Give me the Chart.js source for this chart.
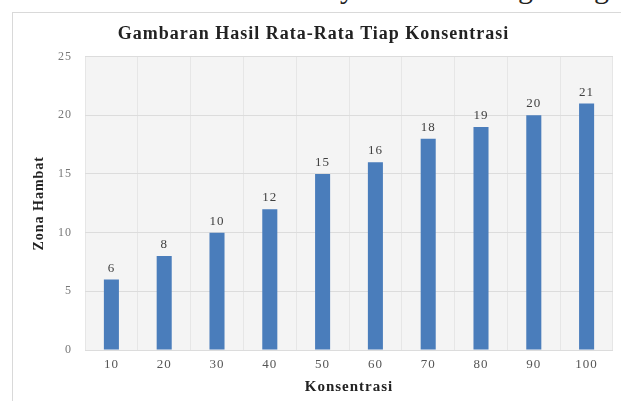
<!DOCTYPE html>
<html><head><meta charset="utf-8">
<script src="https://cdn.jsdelivr.net/npm/chart.js@4.4.1/dist/chart.umd.min.js"></script>
<style>
html,body{margin:0;padding:0;background:#fff;}
body{width:621px;height:401px;position:relative;overflow:hidden;}
#strip{position:absolute;left:0;top:0;width:621px;height:10px;overflow:hidden;}
#strip span{position:absolute;top:-29px;font-family:"Liberation Serif",serif;font-size:30px;color:#222;}
#box{position:absolute;left:12px;top:12px;width:609px;height:389px;border-left:1px solid #d9d9d9;border-top:1px solid #d9d9d9;box-sizing:border-box;}
#wrap{position:absolute;left:1px;top:1px;width:608px;height:388px;}
</style></head>
<body>
<div id="strip"><span style="left:340px">y</span><span style="left:518px">g</span><span style="left:594px">g</span></div>
<div id="box"><div id="wrap"><canvas id="c"></canvas></div></div>
<script>
const categories = ["10","20","30","40","50","60","70","80","90","100"];
const zonaHambat = [6,8,10,12,15,16,18,19,20,21];
const yTicks = [0,5,10,15,20,25];
const chartTitle = "Gambaran Hasil Rata-Rata Tiap Konsentrasi";
const xTitle = "Konsentrasi";
const yTitle = "Zona Hambat";

const spacing = {
  id:'spacing',
  beforeInit(chart){ chart.ctx.letterSpacing='1px'; },
  beforeUpdate(chart){ chart.ctx.letterSpacing='1px'; },
  beforeLayout(chart){ chart.ctx.letterSpacing='1px'; },
  beforeDraw(chart){ chart.ctx.letterSpacing='1px'; }
};
const plotBg = {
  id:'plotBg',
  beforeDraw(chart){
    const {ctx, chartArea:a} = chart;
    ctx.save(); ctx.fillStyle='#f4f4f4';
    ctx.fillRect(a.left,a.top,a.right-a.left,a.bottom-a.top);
    ctx.restore();
  }
};
const valueLabels = {
  id:'valueLabels',
  afterDatasetsDraw(chart){
    const {ctx} = chart;
    const meta = chart.getDatasetMeta(0);
    ctx.save();
    ctx.font = '13px "Liberation Serif", serif';
    ctx.fillStyle = '#404040';
    ctx.textAlign = 'center';
    ctx.textBaseline = 'alphabetic';
    meta.data.forEach((el,i)=>{
      ctx.fillText(String(chart.data.datasets[0].data[i]), el.x, el.y - 8);
    });
    ctx.restore();
  }
};

new Chart(document.getElementById('c'), {
  type:'bar',
  data:{ labels:categories, datasets:[{ data:zonaHambat, backgroundColor:'#4a7dbb', barPercentage:0.285, categoryPercentage:1 }]},
  options:{
    responsive:true, maintainAspectRatio:false, animation:false,
    layout:{padding:{left:0,right:9,top:0,bottom:0}},
    plugins:{
      legend:{display:false}, tooltip:{enabled:false},
      title:{display:true, text:chartTitle, color:'#222',
        font:{family:'"Liberation Serif", serif', size:18, weight:'bold'},
        padding:{top:10,bottom:11}}
    },
    scales:{
      x:{
        grid:{display:true, offset:true, color:'#e6e6e6', drawTicks:false},
        border:{display:false},
        ticks:{color:'#555', font:{family:'"Liberation Serif", serif', size:13}, padding:7},
        title:{display:true, text:xTitle, color:'#222', font:{family:'"Liberation Serif", serif', size:15, weight:'bold'}, padding:{top:4,bottom:6}},
        afterFit(s){ s.height = 52; }
      },
      y:{
        min:0, max:25,
        afterBuildTicks(s){ s.ticks = yTicks.map(v=>({value:v})); },
        grid:{color:'#dcdcdc', drawTicks:false},
        border:{display:false},
        ticks:{color:'#777', font:{family:'"Liberation Serif", serif', size:12}, padding:13},
        title:{display:true, text:yTitle, color:'#222', font:{family:'"Liberation Serif", serif', size:14, weight:'bold'}, padding:{top:17,bottom:0}},
        afterFit(s){ s.width = 71; }
      }
    }
  },
  plugins:[spacing, plotBg, valueLabels]
});
</script>
</body></html>
